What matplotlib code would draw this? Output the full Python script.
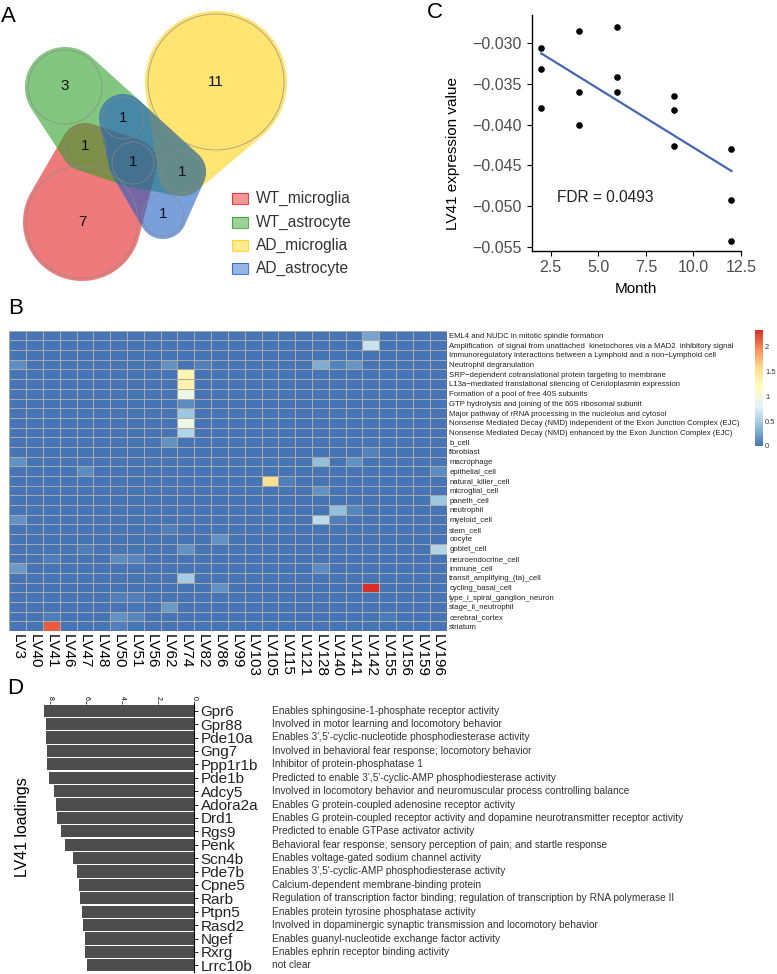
import numpy as np
import matplotlib.pyplot as plt
from matplotlib.patches import Circle, Polygon, Rectangle
from matplotlib.colors import LinearSegmentedColormap

plt.rcParams['font.family'] = ['Liberation Sans', 'DejaVu Sans']

W, H = 777, 974

# ---- A: overlap of significant LVs between groups
set_names = ['WT_microglia', 'WT_astrocyte', 'AD_microglia', 'AD_astrocyte']
set_colors = ['#E31A1C', '#2A9D22', '#FFD20D', '#1A5CC4']
region_counts = [7, 3, 11, 1, 1, 1, 1, 1]
region_members = [[0], [1], [2], [1, 3], [0, 1], [0, 1, 3], [1, 2, 3], [3]]

# ---- C: LV41 vs month
month = [2, 2, 2, 4, 4, 4, 6, 6, 6, 9, 9, 9, 12, 12, 12]
lv41_expr = [-0.0306, -0.0332, -0.0380, -0.0285, -0.0360, -0.0400,
             -0.0280, -0.0342, -0.0360, -0.0365, -0.0382, -0.0426,
             -0.0430, -0.0493, -0.0543]
fdr = 0.0493

# ---- B: LV enrichment heatmap
lv_names = ['LV3', 'LV40', 'LV41', 'LV46', 'LV47', 'LV48', 'LV50', 'LV51', 'LV56',
            'LV62', 'LV74', 'LV82', 'LV86', 'LV99', 'LV103', 'LV105', 'LV115',
            'LV121', 'LV128', 'LV140', 'LV141', 'LV142', 'LV155', 'LV156',
            'LV159', 'LV196']
term_names = [
    'EML4 and NUDC in mitotic spindle formation',
    'Amplification  of signal from unattached  kinetochores via a MAD2  inhibitory signal',
    'Immunoregulatory interactions between a Lymphoid and a non\u2212Lymphoid cell',
    'Neutrophil degranulation',
    'SRP\u2212dependent cotranslational protein targeting to membrane',
    'L13a\u2212mediated translational silencing of Ceruloplasmin expression',
    'Formation of a pool of free 40S subunits',
    'GTP hydrolysis and joining of the 60S ribosomal subunit',
    'Major pathway of rRNA processing in the nucleolus and cytosol',
    'Nonsense Mediated Decay (NMD) independent of the Exon Junction Complex (EJC)',
    'Nonsense Mediated Decay (NMD) enhanced by the Exon Junction Complex (EJC)',
    'b_cell', 'fibroblast', 'macrophage', 'epithelial_cell', 'natural_killer_cell',
    'microglial_cell', 'paneth_cell', 'neutrophil', 'myeloid_cell', 'stem_cell',
    'oocyte', 'goblet_cell', 'neuroendocrine_cell', 'immune_cell',
    'transit_amplifying_(ta)_cell', 'cycling_basal_cell',
    'type_i_spiral_ganglion_neuron', 'stage_ii_neutrophil', 'cerebral_cortex',
    'striatum']
# non-zero cells (row index in term_names, LV, value)
hit_rows = [0, 1, 3, 3, 3, 3, 3, 3, 4, 5, 6, 7, 8, 9, 10, 11, 12, 13, 13, 13,
            14, 14, 15, 15, 16, 17, 18, 18, 19, 19, 19, 20, 21, 22, 22, 22,
            23, 23, 23, 24, 24, 25, 26, 26, 27, 27, 28, 29, 29, 29, 29, 30, 30]
hit_lvs = ['LV142', 'LV142', 'LV3', 'LV62', 'LV82', 'LV128', 'LV140', 'LV141',
           'LV74', 'LV74', 'LV74', 'LV74', 'LV74', 'LV74', 'LV74', 'LV62', 'LV142',
           'LV3', 'LV128', 'LV141', 'LV47', 'LV196', 'LV105', 'LV115', 'LV128',
           'LV196', 'LV140', 'LV141', 'LV3', 'LV128', 'LV140', 'LV62', 'LV86',
           'LV74', 'LV47', 'LV196', 'LV50', 'LV51', 'LV41', 'LV3', 'LV128', 'LV74',
           'LV86', 'LV142', 'LV50', 'LV51', 'LV62', 'LV50', 'LV51', 'LV41', 'LV155',
           'LV41', 'LV50']
hit_vals = [0.25, 0.65, 0.12, 0.15, 0.06, 0.30, 0.08, 0.18,
            1.29, 1.33, 0.91, 0.12, 0.45, 0.92, 0.55, 0.15, 0.08,
            0.15, 0.40, 0.15, 0.12, 0.12, 1.55, 0.06, 0.15,
            0.45, 0.40, 0.10, 0.15, 0.60, 0.06, 0.06, 0.15,
            0.15, 0.05, 0.55, 0.12, 0.10, 0.05, 0.20, 0.12, 0.50,
            0.15, 2.33, 0.06, 0.06, 0.20, 0.15, 0.10, 0.05, 0.04,
            2.15, 0.06]

# ---- D: top LV41 gene loadings
genes = ['Gpr6', 'Gpr88', 'Pde10a', 'Gng7', 'Ppp1r1b', 'Pde1b', 'Adcy5', 'Adora2a',
         'Drd1', 'Rgs9', 'Penk', 'Scn4b', 'Pde7b', 'Cpne5', 'Rarb', 'Ptpn5',
         'Rasd2', 'Ngef', 'Rxrg', 'Lrrc10b']
loadings = [8.33, 8.26, 8.24, 8.20, 8.20, 8.09, 7.78, 7.68, 7.61, 7.39, 7.20,
            6.74, 6.52, 6.42, 6.33, 6.24, 6.17, 6.09, 6.06, 5.96]
gene_notes = [
    'Enables sphingosine-1-phosphate receptor activity',
    'Involved in motor learning and locomotory behavior',
    "Enables 3',5'-cyclic-nucleotide phosphodiesterase activity",
    'Involved in behavioral fear response; locomotory behavior',
    'Inhibitor of protein-phosphatase 1',
    "Predicted to enable 3',5'-cyclic-AMP phosphodiesterase activity",
    'Involved in locomotory behavior and neuromuscular process controlling balance',
    'Enables G protein-coupled adenosine receptor activity',
    'Enables G protein-coupled receptor activity and dopamine neurotransmitter receptor activity',
    'Predicted to enable GTPase activator activity',
    'Behavioral fear response; sensory perception of pain; and startle response',
    'Enables voltage-gated sodium channel activity',
    "Enables 3',5'-cyclic-AMP phosphodiesterase activity",
    'Calcium-dependent membrane-binding protein',
    'Regulation of transcription factor binding; regulation of transcription by RNA polymerase II',
    'Enables protein tyrosine phosphatase activity',
    'Involved in dopaminergic synaptic transmission and locomotory behavior',
    'Enables guanyl-nucleotide exchange factor activity',
    'Enables ephrin receptor binding activity',
    'not clear']


def px_axes(x0, y0, x1, y1):
    return fig.add_axes([x0 / W, 1 - y1 / H, (x1 - x0) / W, (y1 - y0) / H])


def hull(pts):
    pts = sorted(map(tuple, pts))
    def cross(o, a, b):
        return (a[0] - o[0]) * (b[1] - o[1]) - (a[1] - o[1]) * (b[0] - o[0])
    lower, upper = [], []
    for p in pts:
        while len(lower) >= 2 and cross(lower[-2], lower[-1], p) <= 0:
            lower.pop()
        lower.append(p)
    for p in reversed(pts):
        while len(upper) >= 2 and cross(upper[-2], upper[-1], p) <= 0:
            upper.pop()
        upper.append(p)
    return lower[:-1] + upper[:-1]


fig = plt.figure(figsize=(W / 100, H / 100), dpi=100)

# panel letters
for lab, x, y in [('A', 1, 17), ('B', 8, 309), ('C', 427, 13), ('D', 7, 689)]:
    fig.text(x / W, 1 - y / H, lab, fontsize=16, va='center', ha='left')

# ---------------- A
ax_a = px_axes(0, 0, 400, 290)
ax_a.set_xlim(0, 400)
ax_a.set_ylim(290, 0)
ax_a.axis('off')
circ_xy = [(82, 222), (65, 87), (216, 82), (123, 118), (85, 147), (133, 163),
           (182, 172), (163, 215)]
circ_r = [56, 37, 68, 21, 21, 21, 21, 21]
t = np.linspace(0, 2 * np.pi, 120)
for s in range(4):
    pts = []
    for k, mem in enumerate(region_members):
        if s in mem:
            cx, cy = circ_xy[k]
            rr = circ_r[k] + 3
            pts.append(np.column_stack([cx + rr * np.cos(t), cy + rr * np.sin(t)]))
    poly = hull(np.vstack(pts))
    ax_a.add_patch(Polygon(poly, closed=True, facecolor=set_colors[s],
                           alpha=0.58, edgecolor='none'))
for k, n in enumerate(region_counts):
    ax_a.add_patch(Circle(circ_xy[k], circ_r[k], fill=False, edgecolor='#8a8a8a',
                          lw=0.6, alpha=0.8))
    ax_a.text(circ_xy[k][0], circ_xy[k][1] - 0.5, str(n), fontsize=11,
              ha='center', va='center', color='#111111')
for s, name in enumerate(set_names):
    y = [198, 222, 245, 268][s]
    ax_a.add_patch(Rectangle((232, y - 5.5), 16, 11, facecolor=set_colors[s],
                             alpha=0.45, edgecolor='none'))
    ax_a.add_patch(Rectangle((232, y - 5.5), 16, 11, fill=False,
                             edgecolor=set_colors[s], lw=0.8, alpha=0.8))
    ax_a.text(256, y, name, fontsize=11.2, va='center', ha='left', color='#333333')

# ---------------- C
ax_c = px_axes(531.7, 15, 741, 250.7)
ax_c.scatter(month, lv41_expr, s=14, color='black', zorder=3)
k_fit, b_fit = np.polyfit(month, lv41_expr, 1)
xs = np.array([min(month), max(month)])
ax_c.plot(xs, k_fit * xs + b_fit, color='#4566B4', lw=1.6)
ax_c.set_xlim(1.5, 12.5)
ax_c.set_ylim(-0.0555, -0.02652)
ax_c.set_xticks([2.5, 5, 7.5, 10, 12.5])
ax_c.set_xticklabels(['2.5', '5.0', '7.5', '10.0', '12.5'])
yt = [-0.030, -0.035, -0.040, -0.045, -0.050, -0.055]
ax_c.set_yticks(yt)
ax_c.set_yticklabels(['\u2212%.3f' % abs(v) for v in yt])
ax_c.tick_params(labelsize=11.5, colors='#4D4D4D', length=3.5, width=0.8)
ax_c.tick_params(axis='both', color='black')
for sp in ['top', 'right']:
    ax_c.spines[sp].set_visible(False)
for sp in ['left', 'bottom']:
    ax_c.spines[sp].set_linewidth(1.0)
ax_c.text(2.83, -0.0490, 'FDR = %s' % fdr, fontsize=11.2, va='center', color='#222222')
fig.text(453 / W, 1 - 153 / H, 'LV41 expression value', rotation=90, fontsize=11,
         ha='center', va='center')
fig.text(636 / W, 1 - 289 / H, 'Month', fontsize=11, ha='center', va='center')

# ---------------- B
mat = np.zeros((len(term_names), len(lv_names)))
for r, lv, v in zip(hit_rows, hit_lvs, hit_vals):
    mat[r, lv_names.index(lv)] = v
cmap = LinearSegmentedColormap.from_list(
    'rdylbu_r', ['#4575B4', '#91BFDB', '#E0F3F8', '#FFFFBF', '#FEE090', '#FC8D59', '#D73027'])
ax_b = px_axes(9.3, 330.7, 446.5, 631)
mesh = ax_b.pcolormesh(mat, cmap=cmap, vmin=0, vmax=2.33, edgecolors='#a9a9a9',
                       linewidth=0.6)
ax_b.set_xlim(0, len(lv_names))
ax_b.set_ylim(len(term_names), 0)
ax_b.set_xticks(np.arange(len(lv_names)) + 0.5)
ax_b.set_xticklabels(lv_names, rotation=-90, fontsize=11, va='top', ha='center')
ax_b.yaxis.tick_right()
ax_b.set_yticks(np.arange(len(term_names)) + 0.5)
ax_b.set_yticklabels(term_names, fontsize=5.55, color='#222222')
ax_b.tick_params(length=0, pad=2)
for sp in ax_b.spines.values():
    sp.set_visible(False)
cax = px_axes(755, 330, 763, 446)
cb = fig.colorbar(mesh, cax=cax)
cb.outline.set_visible(False)
cb.set_ticks([0, 0.5, 1, 1.5, 2])
cb.set_ticklabels(['0', '0.5', '1', '1.5', '2'])
cb.ax.tick_params(labelsize=5.4, length=0, pad=1.5, colors='#333333')

# ---------------- D
ax_d = px_axes(40, 704, 194.3, 972)
ypos = np.arange(len(genes))
ax_d.barh(ypos, loadings, height=0.9, color='#4D4D4D')
ax_d.set_xlim(8.57, 0)
ax_d.set_ylim(len(genes) - 0.5, -0.5)
ax_d.yaxis.tick_right()
ax_d.set_yticks(ypos)
ax_d.set_yticklabels(genes, fontsize=11, color='#222222')
ax_d.tick_params(axis='y', length=3, width=0.6, pad=1.5)
ax_d.xaxis.tick_top()
ax_d.set_xticks([0, 2, 4, 6, 8])
ax_d.set_xticklabels(['0', '2', '4', '6', '8'], rotation=-90, fontsize=5)
ax_d.tick_params(axis='x', length=2, width=0.5, pad=1)
for sp in ['top', 'left', 'bottom']:
    ax_d.spines[sp].set_visible(False)
ax_d.spines['right'].set_linewidth(0.8)
x_note = (272 - 40) / (194.3 - 40)
for i, note in enumerate(gene_notes):
    ax_d.text(x_note, i, note, transform=ax_d.get_yaxis_transform(), fontsize=7.3,
              va='center', ha='left', color='#333333')
fig.text(23 / W, 1 - 827 / H, 'LV41 loadings', rotation=90, fontsize=11.4,
         ha='center', va='center')

fig.savefig('out.png', dpi=100, facecolor='white')
